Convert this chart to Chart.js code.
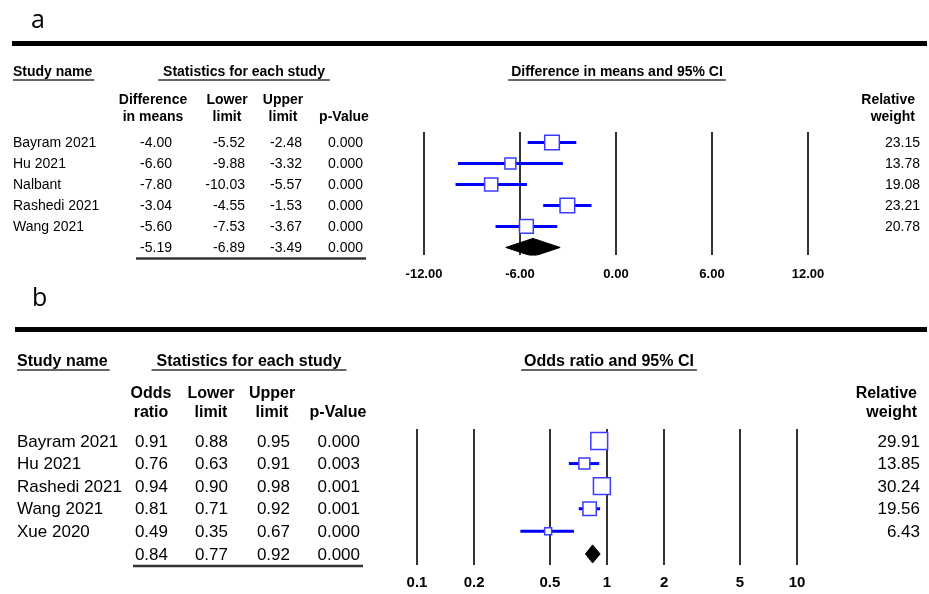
<!DOCTYPE html>
<html lang="en">
<head>
<meta charset="UTF-8">
<title>Forest plots</title>
<script src="https://cdn.jsdelivr.net/npm/chart.js"></script>
<style>
  body { margin: 0; background: #fff; }
  #wrap { position: relative; width: 929px; height: 594px; overflow: hidden; }
  canvas { position: absolute; left: 0; top: 0; }
</style>
</head>
<body>
<div id="wrap">
  <canvas id="plotA" width="929" height="594"></canvas>
  <canvas id="plotB" width="929" height="604"></canvas>
</div>
<script>
// panel a - difference in means
const studiesA = ['Bayram 2021', 'Hu 2021', 'Nalbant', 'Rashedi 2021', 'Wang 2021'];
const meanA = [-4.00, -6.60, -7.80, -3.04, -5.60];
const lowerA = [-5.52, -9.88, -10.03, -4.55, -7.53];
const upperA = [-2.48, -3.32, -5.57, -1.53, -3.67];
const pValA = [0.000, 0.000, 0.000, 0.000, 0.000];
const weightA = [23.15, 13.78, 19.08, 23.21, 20.78];
const totalA = [-5.19, -6.89, -3.49];
const totalPA = 0.000;
const ticksA = [-12, -6, 0, 6, 12];

// panel b - odds ratio
const studiesB = ['Bayram 2021', 'Hu 2021', 'Rashedi 2021', 'Wang 2021', 'Xue 2020'];
const orB = [0.91, 0.76, 0.94, 0.81, 0.49];
const lowerB = [0.88, 0.63, 0.90, 0.71, 0.35];
const upperB = [0.95, 0.91, 0.98, 0.92, 0.67];
const pValB = [0.000, 0.003, 0.001, 0.001, 0.000];
const weightB = [29.91, 13.85, 30.24, 19.56, 6.43];
const totalB = [0.84, 0.77, 0.92];
const totalPB = 0.000;
const ticksB = [0.1, 0.2, 0.5, 1, 2, 5, 10];

const FONT = "'Liberation Sans', Arial, sans-serif";
const BLUE = '#0000ff';

// square side grows with sqrt of weight
function boxRadius(w) {
  return (3.35 * Math.sqrt(w) - 1.5) / Math.SQRT2;
}

function buildDatasets(est, lo, hi, w, total, halfH) {
  const ds = [];
  ds.push({
    type: 'scatter',
    data: est.map((v, i) => ({ x: v, y: i })),
    pointStyle: 'rect',
    pointRadius: w.map(boxRadius),
    backgroundColor: '#ffffff',
    borderColor: '#3b3bff',
    borderWidth: 1.5,
    order: 0
  });
  est.forEach((v, i) => {
    ds.push({
      type: 'line',
      data: [{ x: lo[i], y: i }, { x: hi[i], y: i }],
      borderColor: BLUE,
      borderWidth: 3,
      pointRadius: 0,
      order: 1
    });
  });
  const r = est.length;
  ds.push({
    type: 'line',
    data: [
      { x: total[1], y: r },
      { x: total[0], y: r - halfH },
      { x: total[2], y: r },
      { x: total[0], y: r + halfH },
      { x: total[1], y: r }
    ],
    borderColor: '#000',
    backgroundColor: '#000',
    borderWidth: 1,
    pointRadius: 0,
    fill: 'shape',
    order: 1
  });
  return ds;
}

function text(ctx, s, x, y, align, font) {
  ctx.font = font;
  ctx.textAlign = align;
  ctx.fillText(s, x, y);
}

function underline(ctx, x1, x2, y, w) {
  ctx.strokeStyle = '#333';
  ctx.lineWidth = w || 1.5;
  ctx.beginPath();
  ctx.moveTo(x1, y);
  ctx.lineTo(x2, y);
  ctx.stroke();
}

// left table, headers and weights, placed on the rows of the y scale
function tablePlugin(t) {
  return {
    id: 'table',
    afterDraw(chart) {
      const ctx = chart.ctx;
      const ys = chart.scales.y;
      ctx.save();
      ctx.fillStyle = '#000';
      ctx.textBaseline = 'alphabetic';
      // panel letter and thick rule
      text(ctx, t.letter, t.letterX, t.letterY, 'left', "25px 'Open Sans', sans-serif");
      ctx.fillRect(t.ruleX, t.ruleY, 927 - t.ruleX, 5);
      // column titles
      const hb = 'bold ' + t.headSize + 'px ' + FONT;
      text(ctx, 'Study name', t.nameX, t.titleY, 'left', hb);
      underline(ctx, t.nameX, t.nameX + ctx.measureText('Study name').width + 2, t.titleY + 4);
      text(ctx, 'Statistics for each study', t.statsX, t.titleY, 'center', hb);
      const sw = ctx.measureText('Statistics for each study').width / 2 + 5;
      underline(ctx, t.statsX - sw, t.statsX + sw, t.titleY + 4);
      text(ctx, t.plotTitle, t.plotTitleX, t.titleY, 'center', hb);
      const pw = ctx.measureText(t.plotTitle).width / 2 + 3;
      underline(ctx, t.plotTitleX - pw, t.plotTitleX + pw, t.titleY + 4);
      // column headers
      t.heads.forEach((h, k) => {
        if (h[0]) text(ctx, h[0], t.headX[k], t.headY[0], 'center', hb);
        text(ctx, h[1], t.headX[k], t.headY[1], 'center', hb);
      });
      text(ctx, 'Relative', t.relX, t.headY[0], 'right', hb);
      text(ctx, 'weight', t.relX, t.headY[1], 'right', hb);
      // rows
      const rf = t.rowSize + 'px ' + FONT;
      ctx.textBaseline = 'middle';
      t.names.forEach((n, i) => {
        const y = ys.getPixelForValue(i) + 1;
        text(ctx, n, t.nameX, y, 'left', rf);
        text(ctx, t.est[i].toFixed(2), t.colX[0], y, 'right', rf);
        text(ctx, t.lo[i].toFixed(2), t.colX[1], y, 'right', rf);
        text(ctx, t.hi[i].toFixed(2), t.colX[2], y, 'right', rf);
        text(ctx, t.p[i].toFixed(3), t.colX[3], y, 'right', rf);
        text(ctx, t.w[i].toFixed(2), t.wX, y, 'right', rf);
      });
      const yt = ys.getPixelForValue(t.names.length) + 1;
      t.total.forEach((v, k) => text(ctx, v.toFixed(2), t.colX[k], yt, 'right', rf));
      text(ctx, t.totalP.toFixed(3), t.colX[3], yt, 'right', rf);
      underline(ctx, t.sumLine[0], t.sumLine[1], yt + t.sumLineDy, 2.5);
      ctx.restore();
    }
  };
}

function xGrid() {
  return { color: '#333', lineWidth: 2, drawTicks: false };
}

new Chart(document.getElementById('plotA'), {
  type: 'scatter',
  data: { datasets: buildDatasets(meanA, lowerA, upperA, weightA, totalA, 0.43) },
  options: {
    responsive: false,
    animation: false,
    events: [],
    layout: { padding: { left: 424, right: 121, top: 132, bottom: 301 } },
    plugins: { legend: { display: false }, tooltip: { enabled: false } },
    scales: {
      x: {
        type: 'linear', min: -12, max: 12,
        afterBuildTicks: s => { s.ticks = ticksA.map(v => ({ value: v })); },
        ticks: { padding: 11, color: '#000', font: { family: FONT, size: 13, weight: 'bold' },
                 callback: v => Number(v).toFixed(2), maxRotation: 0 },
        grid: xGrid(),
        border: { display: false }
      },
      y: { type: 'linear', reverse: true, min: -0.5, max: 5.38, display: false }
    }
  },
  plugins: [tablePlugin({
    letter: 'a', letterX: 31, letterY: 28, ruleX: 12, ruleY: 41,
    headSize: 14, rowSize: 14, titleY: 76,
    nameX: 13, statsX: 244, plotTitle: 'Difference in means and 95% CI', plotTitleX: 617,
    heads: [['Difference', 'in means'], ['Lower', 'limit'], ['Upper', 'limit'], ['', 'p-Value']],
    headX: [153, 227, 283, 344], headY: [104, 121], relX: 915,
    names: studiesA, est: meanA, lo: lowerA, hi: upperA, p: pValA, w: weightA,
    total: totalA, totalP: totalPA,
    colX: [172, 245, 302, 363], wX: 920,
    sumLine: [136, 366], sumLineDy: 10
  })]
});

new Chart(document.getElementById('plotB'), {
  type: 'scatter',
  data: { datasets: buildDatasets(orB, lowerB, upperB, weightB, totalB, 0.4) },
  options: {
    responsive: false,
    animation: false,
    events: [],
    layout: { padding: { left: 417, right: 132, top: 429, bottom: 3 } },
    plugins: { legend: { display: false }, tooltip: { enabled: false } },
    scales: {
      x: {
        type: 'logarithmic', min: 0.1, max: 10,
        afterBuildTicks: s => { s.ticks = ticksB.map(v => ({ value: v })); },
        ticks: { padding: 9, color: '#000', font: { family: FONT, size: 15, weight: 'bold' },
                 callback: v => String(v), maxRotation: 0, autoSkip: false },
        grid: xGrid(),
        border: { display: false }
      },
      y: { type: 'linear', reverse: true, min: -0.53, max: 5.49, display: false }
    }
  },
  plugins: [tablePlugin({
    letter: 'b', letterX: 32, letterY: 306, ruleX: 15, ruleY: 327,
    headSize: 16, rowSize: 17, titleY: 366,
    nameX: 17, statsX: 249, plotTitle: 'Odds ratio and 95% CI', plotTitleX: 609,
    heads: [['Odds', 'ratio'], ['Lower', 'limit'], ['Upper', 'limit'], ['', 'p-Value']],
    headX: [151, 211, 272, 338], headY: [398, 417], relX: 917,
    names: studiesB, est: orB, lo: lowerB, hi: upperB, p: pValB, w: weightB,
    total: totalB, totalP: totalPB,
    colX: [168, 228, 290, 360], wX: 920,
    sumLine: [133, 363], sumLineDy: 11
  })]
});
</script>
</body>
</html>
